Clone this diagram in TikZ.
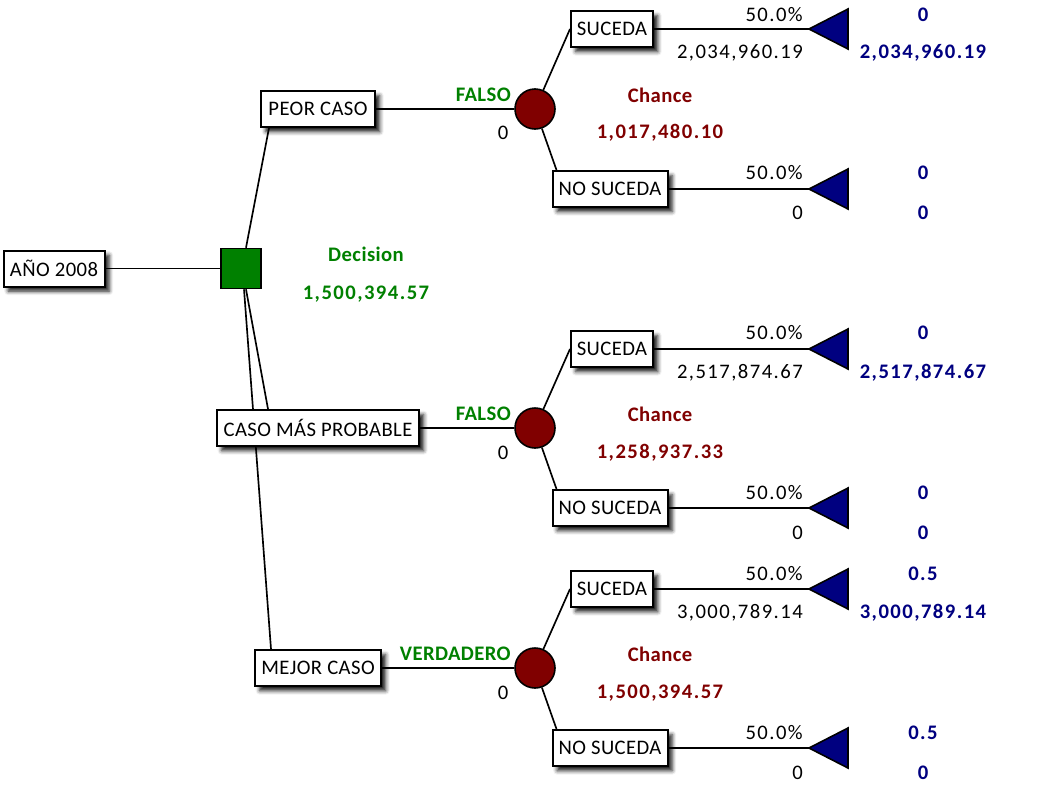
\documentclass[tikz,border=0pt]{standalone}
\usepackage{fontspec}
\setmainfont{Carlito}[LetterSpace=2]
\newfontfamily\numfont{Carlito}[LetterSpace=7]
\usetikzlibrary{shadows.blur}
\definecolor{dgreen}{RGB}{0,128,0}
\definecolor{dred}{RGB}{128,0,0}
\definecolor{dblue}{RGB}{0,0,128}
\pgfdeclarelayer{bg}
\pgfsetlayers{bg,main}
\begin{document}
\begin{tikzpicture}[x=0.75pt,y=-0.75pt,
  font=\fontsize{15.5pt}{18pt}\selectfont,
  box/.style={draw,line width=1.5pt,fill=white,minimum height=27pt,inner sep=0pt,
    blur shadow={shadow xshift=3.5pt,shadow yshift=-3.5pt,shadow blur radius=3pt,shadow opacity=90}},
  decnode/.style={draw,line width=1.2pt,fill=dgreen,minimum size=30pt,inner sep=0pt},
  chn/.style={circle,draw,line width=1.2pt,fill=dred,minimum size=30pt,inner sep=0pt},
  edge/.style={line width=1.25pt},
  tri/.style={draw,line width=1.2pt,fill=dblue},
  lbl/.style={inner sep=0pt},
  nlbl/.style={lbl,font=\fontsize{15.5pt}{18pt}\numfont},
  glbl/.style={lbl,text=dgreen,font=\fontsize{15.5pt}{18pt}\selectfont\bfseries},
  gnum/.style={lbl,text=dgreen,font=\fontsize{15.5pt}{18pt}\numfont\bfseries},
  rlbl/.style={lbl,text=dred,font=\fontsize{15.5pt}{18pt}\selectfont\bfseries},
  rnum/.style={lbl,text=dred,font=\fontsize{15.5pt}{18pt}\numfont\bfseries},
  blbl/.style={lbl,text=dblue,font=\fontsize{15.5pt}{18pt}\numfont\bfseries}]
\useasboundingbox (0,0) rectangle (1039,789);

% root and decision
\node[box,minimum width=75.75pt] (root) at (54,268.5) {AÑO 2008};
\node[decnode] (dec) at (241,268.5) {};
\node[glbl] (declab) at (366,254) {Decision};
\node[gnum] (decval) at (366,294) {1,500,394.57};

% alternatives
\node[box,minimum width=85.5pt] (peor) at (318,109) {PEOR CASO};
\node[box,minimum width=151.5pt] (cmp) at (318,428) {CASO MÁS PROBABLE};
\node[box,minimum width=94.5pt] (mejor) at (318,668) {MEJOR CASO};

% chance nodes
\node[chn] (ch1) at (535,109) {};
\node[chn] (ch2) at (535,428) {};
\node[chn] (ch3) at (535,668) {};

\node[glbl,anchor=east] (f1) at (511,95) {FALSO};
\node[nlbl] (z1) at (503,133) {0};
\node[rlbl] (cl1) at (660,95) {Chance};
\node[rnum] (cv1) at (660,133) {1,017,480.10};

\node[glbl,anchor=east] (f2) at (511,414) {FALSO};
\node[nlbl] (z2) at (503,453) {0};
\node[rlbl] (cl2) at (660,414) {Chance};
\node[rnum] (cv2) at (660,453) {1,258,937.33};

\node[glbl,anchor=east] (f3) at (511,654) {VERDADERO};
\node[nlbl] (z3) at (503,693) {0};
\node[rlbl] (cl3) at (660,654) {Chance};
\node[rnum] (cv3) at (660,693) {1,500,394.57};

% outcome boxes
\node[box,minimum width=61.5pt] (s1) at (612,29) {SUCEDA};
\node[box,minimum width=86.25pt] (n1) at (610,189) {NO SUCEDA};
\node[box,minimum width=61.5pt] (s2) at (612,349) {SUCEDA};
\node[box,minimum width=86.25pt] (n2) at (610,508) {NO SUCEDA};
\node[box,minimum width=61.5pt] (s3) at (612,589) {SUCEDA};
\node[box,minimum width=86.25pt] (n3) at (610,748) {NO SUCEDA};

% terminal tips
\coordinate (t1) at (809,29);
\coordinate (t2) at (809,189);
\coordinate (t3) at (809,349);
\coordinate (t4) at (809,508);
\coordinate (t5) at (809,589);
\coordinate (t6) at (809,748);
\foreach \t in {t1,t2,t3,t4,t5,t6}
  \draw[tri] (\t) -- ++(39,-20) -- ++(0,40) -- cycle;

% branch labels
\node[nlbl,anchor=east] (p1) at (803,15) {50.0\%};
\node[nlbl,anchor=east] (v1) at (803,53) {2,034,960.19};
\node[blbl] (b1a) at (923,15) {0};
\node[blbl] (b1b) at (923,53) {2,034,960.19};

\node[nlbl,anchor=east] (p2) at (803,173) {50.0\%};
\node[nlbl,anchor=east] (v2) at (803,213) {0};
\node[blbl] (b2a) at (923,173) {0};
\node[blbl] (b2b) at (923,213) {0};

\node[nlbl,anchor=east] (p3) at (803,333) {50.0\%};
\node[nlbl,anchor=east] (v3) at (803,373) {2,517,874.67};
\node[blbl] (b3a) at (923,333) {0};
\node[blbl] (b3b) at (923,373) {2,517,874.67};

\node[nlbl,anchor=east] (p4) at (803,493) {50.0\%};
\node[nlbl,anchor=east] (v4) at (803,533) {0};
\node[blbl] (b4a) at (923,493) {0};
\node[blbl] (b4b) at (923,533) {0};

\node[nlbl,anchor=east] (p5) at (803,574) {50.0\%};
\node[nlbl,anchor=east] (v5) at (803,613) {3,000,789.14};
\node[blbl] (b5a) at (923,574) {0.5};
\node[blbl] (b5b) at (923,613) {3,000,789.14};

\node[nlbl,anchor=east] (p6) at (803,733) {50.0\%};
\node[nlbl,anchor=east] (v6) at (803,773) {0};
\node[blbl] (b6a) at (923,733) {0.5};
\node[blbl] (b6b) at (923,773) {0};

% connectors
\begin{pgfonlayer}{bg}
\draw[edge] (root.east) -- (dec.west);
\draw[edge] ([xshift=3.75pt]dec.north) -- ([xshift=6.75pt]peor.south west);
\draw[edge] ([xshift=3.75pt]dec.south) -- ([xshift=39pt]cmp.north west);
\draw[edge] ([xshift=2.25pt]dec.south) -- ([xshift=12.75pt]mejor.north west);
\draw[edge] (peor.east) -- (ch1.west);
\draw[edge] (cmp.east) -- (ch2.west);
\draw[edge] (mejor.east) -- (ch3.west);
\draw[edge] (ch1) -- (s1.west);
\draw[edge] (ch1) -- ([xshift=3.75pt]n1.north west);
\draw[edge] (ch2) -- (s2.west);
\draw[edge] (ch2) -- ([xshift=3.75pt]n2.north west);
\draw[edge] (ch3) -- (s3.west);
\draw[edge] (ch3) -- ([xshift=3.75pt]n3.north west);
\draw[edge] (s1.east) -- (t1);
\draw[edge] (n1.east) -- (t2);
\draw[edge] (s2.east) -- (t3);
\draw[edge] (n2.east) -- (t4);
\draw[edge] (s3.east) -- (t5);
\draw[edge] (n3.east) -- (t6);
\end{pgfonlayer}
\end{tikzpicture}
\end{document}
